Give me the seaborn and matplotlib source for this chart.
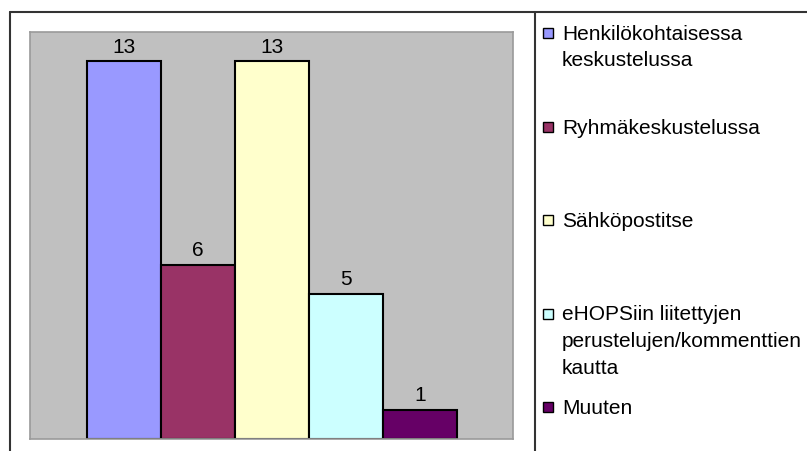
import matplotlib
matplotlib.use('Agg')
import matplotlib.pyplot as plt
from matplotlib.lines import Line2D
from matplotlib.patches import Rectangle
import seaborn as sns
import pandas as pd

# data
kanavat = ['Henkilökohtaisessa\nkeskustelussa',
           'Ryhmäkeskustelussa',
           'Sähköpostitse',
           'eHOPSiin liitettyjen\nperustelujen/kommenttien\nkautta',
           'Muuten']
lukumaarat = [13, 6, 13, 5, 1]
varit = ['#9999FF', '#993366', '#FFFFCC', '#CCFFFF', '#660066']

df = pd.DataFrame({'kanava': kanavat, 'lkm': lukumaarat})

sns.set_style('white')
plt.rcParams['font.family'] = ['Liberation Sans', 'DejaVu Sans']

W, H = 807, 452
fig = plt.figure(figsize=(W / 100, H / 100), dpi=100)


def fx(px):
    return px / W


def fy(py):
    return 1 - py / H


# plot area
ax = fig.add_axes([fx(30), fy(440), fx(513) - fx(30), fy(33) - fy(440)])
ax.set_facecolor('#C0C0C0')
sns.barplot(data=df, x='kanava', y='lkm', hue='kanava', palette=varit,
            width=1.0, edgecolor='black', linewidth=1.5, legend=False,
            saturation=1, ax=ax)
for cont in ax.containers:
    ax.bar_label(cont, padding=4, fontsize=15, color='black')
ax.set_xlim(-1.27, 5.26)
ax.set_ylim(0, 14)
ax.set_xticks([])
ax.set_yticks([])
ax.set_xlabel('')
ax.set_ylabel('')
for sp in ax.spines.values():
    sp.set_color('#9A9A9A')
    sp.set_linewidth(1.2)

# outer frame and legend divider
frame_kw = dict(color='#333333', linewidth=1.5, transform=fig.transFigure)
fig.add_artist(Line2D([fx(10), 1], [fy(13), fy(13)], **frame_kw))
fig.add_artist(Line2D([fx(10), fx(10)], [fy(13), 0], **frame_kw))
fig.add_artist(Line2D([fx(535), fx(535)], [fy(13), 0], **frame_kw))

# legend drawn by hand (Excel-style)
for i, (nimi, vari) in enumerate(zip(kanavat, varit)):
    y0 = 34 + i * 93.5
    fig.add_artist(Rectangle((fx(543), fy(y0 + 5)), fx(10), fy(y0 - 5) - fy(y0 + 5),
                             facecolor=vari, edgecolor='black', linewidth=1,
                             transform=fig.transFigure))
    fig.text(fx(562), fy(y0 - 9), nimi, fontsize=15, va='top', ha='left',
             linespacing=1.5, color='black')

fig.savefig('out.png', dpi=100, facecolor='white')
